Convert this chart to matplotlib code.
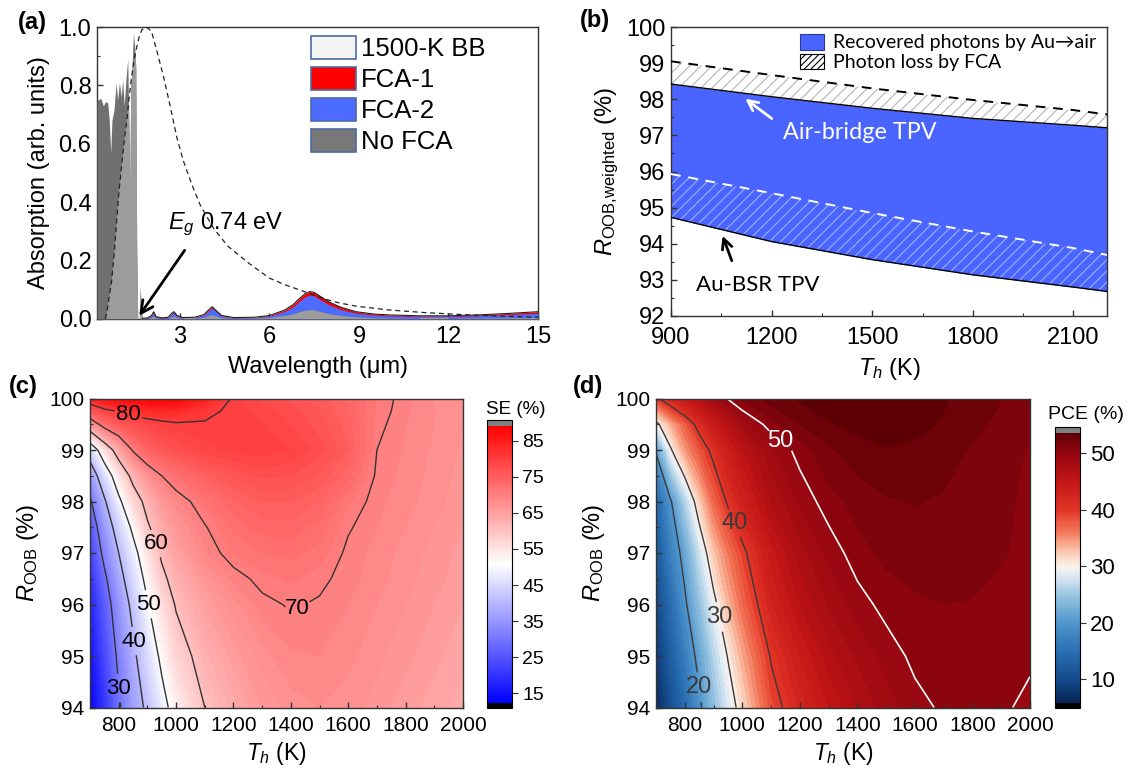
import numpy as np
import matplotlib
matplotlib.use("Agg")
import matplotlib.pyplot as plt
from matplotlib.patches import Patch, Polygon
from matplotlib.colors import LinearSegmentedColormap, Normalize
from matplotlib.cm import ScalarMappable
import matplotlib.ticker as mticker

plt.rcParams['font.family'] = ['Liberation Sans', 'DejaVu Sans']
plt.rcParams['mathtext.fontset'] = 'custom'
plt.rcParams['mathtext.rm'] = 'Liberation Sans'
plt.rcParams['mathtext.it'] = 'Liberation Sans:italic'
plt.rcParams['mathtext.bf'] = 'Liberation Sans:bold'
plt.rcParams['hatch.linewidth'] = 0.8
plt.rcParams['axes.linewidth'] = 1.0

# ---------------- (a) absorption spectra ----------------
# band-edge absorption (shared by all three cases)
wl_edge = [0.22, 0.23, 0.354, 0.43, 0.51, 0.58, 0.63, 0.68, 0.72, 0.79, 0.86, 0.91,
           0.97, 1.03, 1.08, 1.13, 1.19, 1.25, 1.28, 1.32, 1.35, 1.39, 1.44, 1.485,
           1.52, 1.55, 1.585, 1.64, 1.67, 1.71]
abs_edge = [0.74, 0.75, 0.755, 0.73, 0.745, 0.74, 0.68, 0.57, 0.68, 0.715, 0.81, 0.75,
            0.81, 0.76, 0.82, 0.73, 0.82, 0.89, 0.72, 0.43, 0.80, 0.85, 0.98, 0.93,
            0.86, 0.25, 0.0, 0.0, 0.11, 0.02]
# sub-bandgap absorption
wl_sub = [1.75, 1.9, 2.05, 2.12, 2.2, 2.4, 2.6, 2.75, 2.8, 2.9, 3.1, 3.5, 3.8, 4.0,
          4.08, 4.2, 4.4, 4.8, 5.5, 6.0, 6.5, 6.8, 7.0, 7.2, 7.35, 7.5, 7.7, 8.0,
          8.4, 8.9, 9.5, 10.0, 11.0, 12.0, 13.0, 14.0, 15.0]
fca1_sub = [0.003, 0.003, 0.012, 0.025, 0.008, 0.004, 0.006, 0.022, 0.025, 0.012, 0.005,
            0.006, 0.015, 0.035, 0.042, 0.030, 0.012, 0.005, 0.006, 0.012, 0.030, 0.050,
            0.070, 0.087, 0.094, 0.091, 0.078, 0.058, 0.040, 0.025, 0.017, 0.014, 0.011,
            0.011, 0.014, 0.019, 0.025]
fca2_sub = [0.002, 0.002, 0.010, 0.022, 0.006, 0.003, 0.005, 0.020, 0.022, 0.010, 0.004,
            0.005, 0.013, 0.031, 0.038, 0.026, 0.010, 0.004, 0.005, 0.010, 0.025, 0.042,
            0.060, 0.076, 0.082, 0.079, 0.066, 0.048, 0.032, 0.020, 0.013, 0.011, 0.009,
            0.009, 0.011, 0.015, 0.019]
nofca_sub = [0.001, 0.001, 0.005, 0.010, 0.003, 0.001, 0.002, 0.008, 0.010, 0.004, 0.002,
             0.002, 0.006, 0.013, 0.015, 0.010, 0.004, 0.002, 0.003, 0.005, 0.012, 0.018,
             0.025, 0.030, 0.032, 0.031, 0.026, 0.018, 0.012, 0.007, 0.004, 0.003, 0.002,
             0.002, 0.003, 0.004, 0.005]
# 1500-K blackbody spectrum (normalised)
wl_bb = [0.50, 0.545, 0.62, 0.71, 0.80, 0.88, 0.96, 1.05, 1.13, 1.22, 1.30, 1.38, 1.46,
         1.55, 1.63, 1.72, 1.85, 1.95, 2.06, 2.22, 2.45, 2.67, 2.9, 3.12, 3.4, 3.68,
         4.13, 4.6, 5.32, 6.0, 6.5, 7.0, 7.4, 7.8, 8.3, 8.9, 10.0, 11.2, 12.3, 13.4, 15.0]
bb = [0.0, 0.02, 0.07, 0.13, 0.23, 0.34, 0.44, 0.53, 0.61, 0.68, 0.76, 0.83, 0.885,
      0.93, 0.965, 0.99, 1.0, 0.995, 0.98, 0.92, 0.83, 0.73, 0.62, 0.54, 0.46, 0.39,
      0.31, 0.25, 0.19, 0.14, 0.118, 0.10, 0.085, 0.07, 0.056, 0.044, 0.031, 0.022,
      0.016, 0.011, 0.006]

# ---------------- (b) weighted out-of-band reflectance ----------------
th_b = [900, 1200, 1500, 1800, 2100, 2200]
air_fca = [98.42, 98.07, 97.75, 97.47, 97.28, 97.21]
air_nofca = [99.05, 98.67, 98.30, 97.98, 97.70, 97.58]
au_fca = [94.73, 94.06, 93.56, 93.14, 92.80, 92.68]
au_nofca = [95.93, 95.40, 94.85, 94.34, 93.88, 93.69]

# ---------------- (c) spectral efficiency map ----------------
th_map = [700, 750, 800, 850, 900, 950, 1000, 1100, 1200, 1300, 1400, 1500, 1600,
          1700, 1800, 1900, 2000]
r_se = [94, 95, 96, 96.5, 97, 97.5, 98, 98.5, 99, 99.5, 99.75, 100]
se_94 = [13, 20, 29, 36, 41.5, 47.5, 53, 60, 63.5, 66, 67.5, 68, 67.5, 66.5, 65.5, 64.5, 63.5]
se_95 = [15, 23, 31.5, 38.5, 45, 51.5, 57, 62.5, 65.5, 67.5, 68.8, 69, 68.3, 67.3, 66.3, 65.3, 64.3]
se_96 = [17.5, 26, 34.5, 42, 49.5, 55.5, 60.5, 65, 67.5, 69.5, 70.2, 69.8, 69, 68, 67, 66, 65]
se_965 = [19.5, 28.5, 37, 45, 52, 58.5, 62.5, 66.5, 69.2, 70.6, 71.2, 70.4, 69.4, 68.4, 67.4, 66.4, 65.4]
se_97 = [22, 32, 40, 47.5, 55, 61, 64.5, 68.8, 71, 72, 72.3, 71.6, 69.6, 68.6, 67.6, 66.6, 65.6]
se_975 = [25, 35, 43.5, 51.5, 59.2, 63.5, 66.5, 69.8, 72.3, 73.5, 73.6, 72.5, 70.2, 69, 68, 67, 66]
se_98 = [29, 39, 48.5, 56.5, 62, 66, 68.5, 71.5, 73.8, 75, 75, 74, 71.2, 69.3, 68.4, 67.4, 66.4]
se_985 = [35, 45, 54.5, 62, 67, 70, 72, 74.5, 76.3, 77.2, 77, 75.8, 73.3, 69.7, 68.6, 67.6, 66.6]
se_99 = [44, 55, 63.5, 70.5, 74, 75.8, 77, 78.5, 79.3, 79.5, 79, 77.5, 75, 70, 68.8, 67.8, 66.8]
se_995 = [66, 72.5, 75.5, 77.2, 78.3, 79.1, 79.6, 79.8, 79.6, 79, 78, 76.5, 74.5, 70.5, 69, 68, 67]
se_9975 = [75, 78.5, 80.2, 81.5, 82.3, 82.7, 82.8, 80.6, 79.5, 78.5, 77.5, 76, 74, 70.8, 69.2, 68, 67]
se_100 = [84, 86.5, 87.8, 88.5, 88.8, 88.7, 88, 84.5, 79.5, 77.5, 76.5, 75.5, 73.5, 71, 69.3, 68, 67]

# ---------------- (d) power conversion efficiency map ----------------
r_pce = [94, 95, 96, 97, 98, 99, 99.5, 99.75, 100]
pce_94 = [6.5, 10.5, 14.5, 19.2, 24, 28, 31.5, 38.5, 42.3, 45, 47, 48.5, 49.6, 50.2, 50.5, 50.2, 49.7]
pce_95 = [8, 12.5, 16.8, 21.3, 26.2, 30.2, 33.8, 40.3, 44, 46.5, 48.2, 49.4, 50.3, 50.8, 51, 50.7, 50.2]
pce_96 = [9.5, 14.5, 19.3, 24.3, 29, 33.2, 36.8, 42.8, 46, 48.1, 49.5, 50.4, 50.8, 51, 50.95, 50.7, 50.4]
pce_97 = [11.5, 17, 21.5, 27.3, 32.5, 36, 39.2, 44.5, 47.5, 49.3, 50.6, 51.3, 51.6, 51.6, 51.4, 51.1, 50.7]
pce_98 = [13.5, 19.5, 26, 32, 37, 40.5, 43, 47, 49.2, 50.6, 51.4, 51.9, 52.05, 51.9, 51.6, 51.2, 50.8]
pce_99 = [20.5, 29.5, 34.5, 38, 41, 43.8, 45.8, 48.8, 50.5, 51.8, 52.6, 52.95, 52.8, 52.4, 51.9, 51.4, 50.9]
pce_995 = [29, 33.5, 37.5, 41.3, 44, 46.2, 48.5, 50.6, 52, 52.9, 53.3, 53.5, 53.3, 52.9, 52.3, 51.7, 51.2]
pce_9975 = [34, 38.5, 41.3, 44, 46.3, 48.3, 49.9, 51.7, 52.7, 53.3, 53.6, 53.65, 53.4, 53, 52.5, 51.9, 51.4]
pce_100 = [39.5, 42, 44.2, 46.3, 48.3, 50.1, 51.2, 52.5, 53.1, 53.5, 53.7, 53.7, 53.5, 53.1, 52.6, 52, 51.5]

se_levels_lines = [30, 40, 50, 60, 70, 80]
pce_levels_dark = [20, 30, 40]
pce_levels_white = [50]

W, H = 1129, 773
fig = plt.figure(figsize=(W / 100, H / 100), dpi=100)


def px_axes(left, top, right, bottom):
    return fig.add_axes([left / W, 1 - bottom / H, (right - left) / W, (bottom - top) / H])


def style_ticks(ax, size, xpad=4):
    ax.tick_params(which='both', direction='in', top=False, right=False,
                   labelsize=size, pad=4, color='#333333')
    ax.tick_params(axis='x', which='both', pad=xpad)
    ax.tick_params(which='major', length=4.5, width=1)
    ax.tick_params(which='minor', length=2.5, width=0.8)
    for s in ax.spines.values():
        s.set_color('#333333')


def flat_labels(labels):
    for t in labels:
        t.set_rotation(0)


FS = 17
edge_col = '#4a6aa6'
red_c, blue_c, gray_c, gray_light = '#ff0000', '#4d6bff', '#707070', '#9c9c9c'

# ---- panel (a)
ax = px_axes(97, 27, 538, 319)
wl_all = np.concatenate([wl_edge, wl_sub])
nofca_all = np.concatenate([abs_edge, nofca_sub])
ax.fill_between(wl_sub, fca1_sub, color=red_c, lw=0, zorder=2)
ax.fill_between(wl_sub, fca2_sub, color=blue_c, lw=0, zorder=3)
ax.fill_between(wl_all, nofca_all, color=gray_c, lw=0, zorder=4)
bb_poly = np.column_stack([np.concatenate([wl_bb, [15.0, 0.5]]),
                           np.concatenate([bb, [0.0, 0.0]])])
clip = Polygon(bb_poly, closed=True, transform=ax.transData)
light = ax.fill_between(wl_all, nofca_all, color=gray_light, lw=0, zorder=5)
light.set_clip_path(clip)
ax.plot(wl_sub, fca1_sub, color='#222222', lw=0.8, zorder=6)
ax.plot(wl_bb, bb, color='#222222', lw=0.9, ls=(0, (4, 3)), zorder=7)
ax.set_xlim(0.22, 15)
ax.set_ylim(0, 1.0)
ax.xaxis.set_major_locator(mticker.FixedLocator([3, 6, 9, 12, 15]))
ax.xaxis.set_minor_locator(mticker.MultipleLocator(1.5))
ax.yaxis.set_major_locator(mticker.MultipleLocator(0.2))
ax.yaxis.set_minor_locator(mticker.MultipleLocator(0.1))
ax.yaxis.set_major_formatter(mticker.FormatStrFormatter('%.1f'))
style_ticks(ax, FS, xpad=5)
ax.set_xlabel('Wavelength (μm)', fontsize=FS, labelpad=6)
ax.set_ylabel('Absorption (arb. units)', fontsize=FS, labelpad=6)
ax.annotate('', xy=(1.58, 0.003), xytext=(3.21, 0.243),
            arrowprops=dict(arrowstyle='->', color='black', lw=2, mutation_scale=22),
            zorder=8)
ax.text(2.6, 0.325, r'$E_g$ 0.74 eV', fontsize=FS, va='center', ha='left')
handles = [Patch(facecolor='#f3f3f3', edgecolor=edge_col, lw=1.2, label='1500-K BB'),
           Patch(facecolor=red_c, edgecolor=edge_col, lw=1.2, label='FCA-1'),
           Patch(facecolor=blue_c, edgecolor=edge_col, lw=1.2, label='FCA-2'),
           Patch(facecolor='#787878', edgecolor=edge_col, lw=1.2, label='No FCA')]
ax.legend(handles=handles, loc='upper left', bbox_to_anchor=(311 / W, 1 - 36 / H),
          bbox_transform=fig.transFigure, frameon=False, fontsize=18.5, borderpad=0,
          borderaxespad=0, handlelength=1.75, handleheight=1.0, labelspacing=0.22,
          handletextpad=0.2)

# ---- panel (b)
ax = px_axes(671, 27, 1107, 316)
ax.fill_between(th_b, au_fca, air_fca, color='#4a64ff', lw=0, zorder=1)
ax.fill_between(th_b, au_fca, au_nofca, facecolor='none', edgecolor='#9db0ff',
                hatch='///', lw=0, zorder=2)
ax.fill_between(th_b, air_fca, air_nofca, facecolor='white', edgecolor='#b4b4b4',
                hatch='///', lw=0, zorder=2)
ax.plot(th_b, air_fca, color='black', lw=1.0, zorder=3)
ax.plot(th_b, au_fca, color='black', lw=1.0, zorder=3)
ax.plot(th_b, air_nofca, color='black', lw=1.4, ls=(0, (5, 4)), zorder=3)
ax.plot(th_b, au_nofca, color='white', lw=1.4, ls=(0, (5, 4)), zorder=3)
ax.set_xlim(900, 2200)
ax.set_ylim(92, 100)
ax.xaxis.set_major_locator(mticker.FixedLocator([900, 1200, 1500, 1800, 2100]))
ax.xaxis.set_minor_locator(mticker.MultipleLocator(150))
ax.yaxis.set_major_locator(mticker.MultipleLocator(1))
ax.yaxis.set_minor_locator(mticker.MultipleLocator(0.5))
style_ticks(ax, FS, xpad=8)
ax.set_xlabel(r'$T_h$ (K)', fontsize=FS, labelpad=5)
ax.set_ylabel(r'$R_{\mathrm{OOB{,}weighted}}$ (%)', fontsize=FS, labelpad=4)
ax.annotate('', xy=(1115, 98.06), xytext=(1207, 97.42),
            arrowprops=dict(arrowstyle='->', color='white', lw=2, mutation_scale=18), zorder=5)
ax.text(1464, 97.08, 'Air-bridge TPV', color='white', fontsize=16.8, family='Lato',
        ha='center', va='center', zorder=5)
ax.annotate('', xy=(1051, 94.29), xytext=(1084, 93.46),
            arrowprops=dict(arrowstyle='->', color='black', lw=2, mutation_scale=18), zorder=5)
ax.text(1159, 92.86, 'Au-BSR TPV', color='black', fontsize=16, family='Lato',
        ha='center', va='center', zorder=5)
hb = [Patch(facecolor='#4a64ff', edgecolor='#2a3a99', lw=0.8,
            label='Recovered photons by Au→air'),
      Patch(facecolor='white', edgecolor='black', hatch='/////', lw=0.8,
            label='Photon loss by FCA')]
ax.legend(handles=hb, loc='upper left', bbox_to_anchor=(800 / W, 1 - 34 / H),
          bbox_transform=fig.transFigure, frameon=False,
          prop={'family': ['Lato', 'DejaVu Sans'], 'size': 14}, borderpad=0,
          borderaxespad=0, handlelength=1.25, handleheight=0.85, labelspacing=0.12,
          handletextpad=0.45)

# ---- panel (c)
FS2 = 14
se_grid = np.array([se_94, se_95, se_96, se_965, se_97, se_975, se_98, se_985,
                    se_99, se_995, se_9975, se_100])
cmap_se = plt.get_cmap('bwr').with_extremes(over='#808080', under='black')
norm_se = Normalize(12.4, 89.2)
ax = px_axes(90, 398.5, 463, 707.5)
ax.contourf(th_map, r_se, se_grid, levels=np.arange(12, 90.5, 1), cmap=cmap_se,
            norm=norm_se, extend='both')
cs = ax.contour(th_map, r_se, se_grid, levels=se_levels_lines, colors='#333333',
                linewidths=1.0)
lbl = ax.clabel(cs, fmt='%d', fontsize=FS2 + 2, inline=True, inline_spacing=2,
                manual=[(834, 99.71), (1419, 95.95), (928, 97.18), (900, 96.0),
                        (853, 95.29), (813, 94.38)], colors='black')
flat_labels(lbl)
ax.set_xlim(700, 2000)
ax.set_ylim(94, 100)
ax.xaxis.set_major_locator(mticker.MultipleLocator(200))
ax.xaxis.set_minor_locator(mticker.MultipleLocator(100))
ax.yaxis.set_major_locator(mticker.MultipleLocator(1))
ax.yaxis.set_minor_locator(mticker.MultipleLocator(0.5))
style_ticks(ax, FS2 + 1, xpad=6)
ax.set_xlabel(r'$T_h$ (K)', fontsize=16.5, labelpad=4)
ax.set_ylabel(r'$R_{\mathrm{OOB}}$ (%)', fontsize=FS, labelpad=6)
cax = px_axes(487.5, 420, 511.8, 708.3)
cb = fig.colorbar(ScalarMappable(norm=norm_se, cmap=cmap_se), cax=cax, extend='both',
                  extendrect=True, extendfrac=0.02)
cb.set_ticks([15, 25, 35, 45, 55, 65, 75, 85])
cb.ax.tick_params(labelsize=FS2, length=4, direction='out', color='#333333')
cb.outline.set_linewidth(0.8)
cax.set_title('SE (%)', fontsize=13.5, pad=4, loc='left', x=-0.05)

# ---- panel (d)
pce_nodes = [(5.86, (6, 37, 85)), (10, (20, 75, 140)), (15, (42, 112, 180)),
             (20, (80, 150, 205)), (25, (155, 198, 226)), (28.5, (226, 236, 245)),
             (30, (250, 242, 236)), (33, (250, 192, 165)), (36, (244, 122, 92)),
             (40, (226, 52, 38)), (45, (195, 22, 22)), (50, (150, 6, 16)),
             (53.65, (92, 0, 6))]
lo, hi = pce_nodes[0][0], pce_nodes[-1][0]
cmap_pce = LinearSegmentedColormap.from_list(
    'pce', [((v - lo) / (hi - lo), tuple(c / 255 for c in rgb)) for v, rgb in pce_nodes]
).with_extremes(over='#808080', under='black')
norm_pce = Normalize(lo, hi)
pce_grid = np.array([pce_94, pce_95, pce_96, pce_97, pce_98, pce_99, pce_995,
                     pce_9975, pce_100])
ax = px_axes(656, 398.5, 1030, 707.5)
ax.contourf(th_map, r_pce, pce_grid, levels=np.arange(5, 54.5, 1), cmap=cmap_pce,
            norm=norm_pce, extend='both')
cs1 = ax.contour(th_map, r_pce, pce_grid, levels=pce_levels_dark, colors='#3a3a3a',
                 linewidths=1.0)
lbl = ax.clabel(cs1, fmt='%d', fontsize=FS2 + 3, inline=True, inline_spacing=2,
                manual=[(852, 94.4), (921, 95.76), (980, 97.6)], colors='#3a3a3a')
flat_labels(lbl)
cs2 = ax.contour(th_map, r_pce, pce_grid, levels=pce_levels_white, colors='white',
                 linewidths=1.2)
lbl = ax.clabel(cs2, fmt='%d', fontsize=FS2 + 3, inline=True, inline_spacing=2,
                manual=[(1120, 99.1)], colors='white')
flat_labels(lbl)
ax.set_xlim(700, 2000)
ax.set_ylim(94, 100)
ax.xaxis.set_major_locator(mticker.MultipleLocator(200))
ax.xaxis.set_minor_locator(mticker.MultipleLocator(100))
ax.yaxis.set_major_locator(mticker.MultipleLocator(1))
ax.yaxis.set_minor_locator(mticker.MultipleLocator(0.5))
style_ticks(ax, FS2 + 1, xpad=6)
ax.set_xlabel(r'$T_h$ (K)', fontsize=16.5, labelpad=4)
ax.set_ylabel(r'$R_{\mathrm{OOB}}$ (%)', fontsize=FS, labelpad=6)
cax = px_axes(1055.3, 427.3, 1079.6, 708.3)
cb = fig.colorbar(ScalarMappable(norm=norm_pce, cmap=cmap_pce), cax=cax, extend='both',
                  extendrect=True, extendfrac=0.02)
cb.set_ticks([10, 20, 30, 40, 50])
cb.ax.tick_params(labelsize=FS2 + 2, length=4, direction='out', color='#333333')
cb.outline.set_linewidth(0.8)
cax.set_title('PCE (%)', fontsize=14, pad=6, loc='left', x=-0.3)

# panel letters
for txt, x, y in [('(a)', 18, 22), ('(b)', 580, 20), ('(c)', 9, 387), ('(d)', 573, 387)]:
    fig.text(x / W, 1 - y / H, txt, fontsize=17, fontweight='bold', ha='left', va='center')

fig.savefig('out.png', dpi=100)
